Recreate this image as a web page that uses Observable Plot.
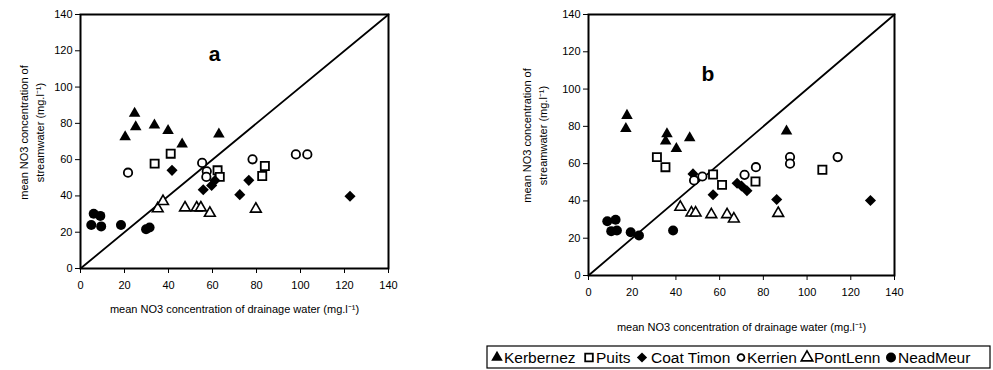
<!DOCTYPE html>
<html><head><meta charset="utf-8">
<script src="https://cdn.jsdelivr.net/npm/d3@7"></script>
<script src="https://cdn.jsdelivr.net/npm/@observablehq/plot@0.6"></script>
<style>
body{margin:0;background:#fff;}
#root{position:relative;width:993px;height:370px;font-family:"Liberation Sans",Arial,sans-serif;overflow:hidden;}
.panel{position:absolute;top:0;}
#legend{position:absolute;left:486px;top:345px;}
</style></head>
<body><div id="root"></div>
<script>
// axis ticks & 1:1 line
const ticks = [0, 20, 40, 60, 80, 100, 120, 140];
const oneToOne = [0, 140];
const sites = ["Kerbernez", "Puits", "Coat Timon", "Kerrien", "PontLenn", "NeadMeur"];

// panel a : [drainage, streamwater]
const kerbernezA = [[20.3,72.5],[24.6,85.5],[25.1,78],[33.6,79],[39.8,76],[46.2,68.5],[62.9,74]];
const puitsA     = [[33.7,57.8],[41,63.3],[62.3,54.1],[63.3,50.5],[82.6,51],[83.8,56.5]];
const coatTimonA = [[41.6,54.1],[55.8,43.4],[59.6,45.8],[61.1,48.5],[72.4,40.7],[76.5,48.6],[122.5,39.8]];
const kerrienA   = [[21.6,52.8],[55.3,58.2],[57.4,53.6],[57.2,50.5],[78.2,60.2],[97.9,62.9],[103.1,62.9]];
const pontLennA  = [[35.1,33],[37.5,37],[47.5,33.5],[52.8,33.5],[54.7,33.5],[58.8,30.5],[79.7,32.8]];
const neadMeurA  = [[6,30.2],[9,29],[4.9,24],[9.4,23.2],[18.4,24],[29.8,21.6],[31.4,22.6]];

// panel b
const kerbernezB = [[17.6,85.8],[17.1,78.7],[35.9,76],[35.3,72],[40.2,68],[46.3,73.8],[90.6,77.4]];
const puitsB     = [[31.3,63.5],[35.2,58.1],[57,54.2],[61.1,48.6],[76.4,50.4],[107,56.7]];
const coatTimonB = [[47.8,54.5],[57,43.3],[68,49.5],[70,48],[72.5,45.5],[86.1,40.8],[129,40.2]];
const kerrienB   = [[48.3,51],[52.1,53.1],[71.4,54],[76.6,58.1],[92.2,63.5],[92.2,60],[114,63.5]];
const pontLennB  = [[42,36.7],[47.1,33.6],[49,33.6],[56.2,32.7],[63.4,32.7],[66.5,30.4],[86.8,33.4]];
const neadMeurB  = [[8.6,29.1],[12.4,29.9],[10.4,23.8],[13,24.1],[19.3,23.2],[23.1,21.5],[38.7,24.1]];

const xTitle = "mean NO3 concentration of drainage water (mg.l\u207B\u00B9)";
const yTitle = "mean NO3 concentration of\nstreamwater (mg.l\u207B\u00B9)";

const styles = {
  "Kerbernez":  {symbol: "triangle", r: 4.3, fill: "#000", stroke: "none"},
  "Puits":      {symbol: "square",   r: 4.6, fill: "#fff", stroke: "#000", strokeWidth: 1.8},
  "Coat Timon": {symbol: "diamond2", r: 5.0, fill: "#000", stroke: "none"},
  "Kerrien":    {symbol: "circle",   r: 4.2, fill: "#fff", stroke: "#000", strokeWidth: 1.8},
  "PontLenn":   {symbol: "triangle", r: 4.0, fill: "#fff", stroke: "#000", strokeWidth: 1.6},
  "NeadMeur":   {symbol: "circle",   r: 5.0, fill: "#000", stroke: "none"}
};

function panel(series, cfg) {
  const dots = sites.map((s, i) => Plot.dot(series[i], {x: d => d[0], y: d => d[1], ...styles[s]}));
  return Plot.plot({
    width: cfg.width, height: cfg.height,
    marginLeft: cfg.ml, marginRight: cfg.mr, marginTop: 14, marginBottom: cfg.mb,
    style: {fontFamily: '"Liberation Sans", Arial, sans-serif', fontSize: "11px", color: "#000", background: "#fff"},
    x: {domain: [0, 140], ticks: ticks, tickSize: 5, tickPadding: 8, label: null},
    y: {domain: [0, 140], ticks: ticks, tickSize: 5, tickPadding: 3, label: null},
    marks: [
      Plot.line(oneToOne.map(v => [v, v]), {x: d => d[0], y: d => d[1], stroke: "#000", strokeWidth: 1.8}),
      ...dots,
      Plot.frame({stroke: "#000", strokeWidth: 2}),
      Plot.text([cfg.letter], {x: cfg.lx, y: cfg.ly, text: d => d, fontSize: 21, fontWeight: "bold"}),
      Plot.text([xTitle], {frameAnchor: "bottom", lineAnchor: "middle", dy: cfg.xdy, text: d => d, fontSize: 11}),
      Plot.text([yTitle], {frameAnchor: "left", textAnchor: "middle", lineAnchor: "middle", rotate: -90, dx: cfg.ydx, dy: cfg.ydy, text: d => d, fontSize: 11, lineHeight: 1.45})
    ]
  });
}

const root = document.getElementById("root");
const a = panel([kerbernezA, puitsA, coatTimonA, kerrienA, pontLennA, neadMeurA],
  {width: 480, height: 330, ml: 80, mr: 92, mb: 62, letter: "a", lx: 61, ly: 118, xdy: 41, ydx: -50, ydy: -9});
a.classList.add("panel"); a.style.left = "0px";
root.appendChild(a);
const b = panel([kerbernezB, puitsB, coatTimonB, kerrienB, pontLennB, neadMeurB],
  {width: 513, height: 345, ml: 108, mr: 99, mb: 70, letter: "b", lx: 54.6, ly: 108, xdy: 52, ydx: -55, ydy: -9.5});
b.classList.add("panel"); b.style.left = "480px";
root.appendChild(b);

// legend
const legendSym = [11, 103, 156, 255, 321, 405];
const legendTxt = [18, 110, 165, 261, 328, 412];
const lg = d3.select(root).append("svg").attr("id", "legend").attr("width", 506).attr("height", 25);
lg.append("rect").attr("x", 1).attr("y", 1).attr("width", 503).attr("height", 22).attr("fill", "#fff").attr("stroke", "#000").attr("stroke-width", 1.2);
const symMap = {triangle: d3.symbolTriangle, square: d3.symbolSquare, diamond2: d3.symbolDiamond2, circle: d3.symbolCircle};
const legR = {"Kerbernez": 4.3, "Puits": 4.3, "Coat Timon": 4.6, "Kerrien": 3.4, "PontLenn": 4.3, "NeadMeur": 5};
sites.forEach((s, i) => {
  const st = styles[s];
  lg.append("path").attr("transform", `translate(${legendSym[i]},12.5)`)
    .attr("d", d3.symbol(symMap[st.symbol], Math.PI * legR[s] * legR[s])())
    .attr("fill", st.fill).attr("stroke", st.stroke === "none" ? null : st.stroke).attr("stroke-width", st.strokeWidth || 0);
  lg.append("text").attr("x", legendTxt[i]).attr("y", 18).attr("font-size", 15.5)
    .attr("font-family", '"Liberation Sans", Arial, sans-serif').text(s);
});
</script></body></html>
